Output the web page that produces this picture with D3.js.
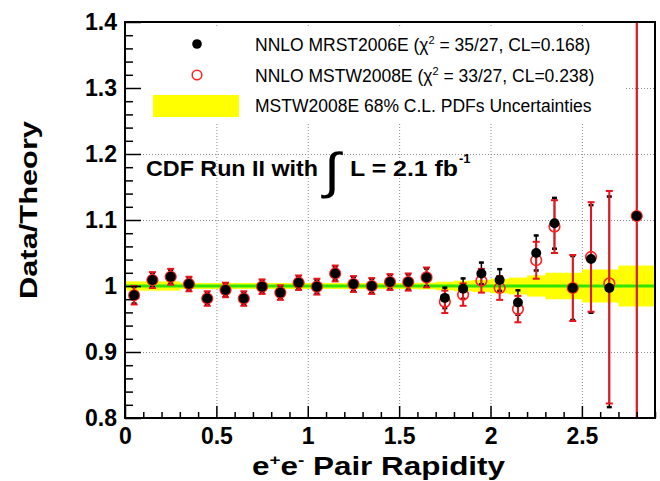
<!DOCTYPE html>
<html><head><meta charset="utf-8">
<script src="https://cdn.jsdelivr.net/npm/d3@7"></script>
<style>
body{margin:0;background:#fff;}
svg{display:block;}
text{font-family:"Liberation Sans",Arial,Helvetica,sans-serif;}
</style></head>
<body><svg id="c" width="660" height="481"></svg>
<script>
// ---- data ----
const rapidity = [0.05,0.15,0.25,0.35,0.45,0.55,0.65,0.75,0.85,0.95,1.05,1.15,1.25,1.35,1.45,1.55,1.65,1.75,1.85,1.95,2.05,2.15,2.25,2.35,2.45,2.55,2.65,2.8];
const mrst2006 = [0.986,1.009,1.014,1.003,0.981,0.994,0.981,0.999,0.990,1.005,0.999,1.019,1.003,1.000,1.006,1.006,1.013,0.982,0.996,1.019,1.009,0.975,1.050,1.095,0.997,1.041,0.997,1.106];
const mstw2008 = [0.986,1.009,1.014,1.003,0.981,0.994,0.981,0.999,0.990,1.005,0.999,1.019,1.003,1.000,1.006,1.006,1.013,0.976,0.987,1.008,0.997,0.965,1.039,1.090,0.997,1.044,1.004,1.106];
const errHi = [0.014,0.012,0.012,0.011,0.011,0.011,0.011,0.011,0.011,0.011,0.012,0.012,0.012,0.012,0.012,0.013,0.015,0.017,0.017,0.018,0.018,0.020,0.028,0.040,0.050,0.083,0.140,0.600];
const errLo = [0.014,0.012,0.012,0.011,0.011,0.011,0.011,0.011,0.011,0.011,0.012,0.012,0.012,0.012,0.012,0.013,0.015,0.017,0.017,0.018,0.018,0.020,0.028,0.040,0.050,0.083,0.182,0.600];
const bandEdges = [0,0.3,1.6,1.7,1.8,1.9,2.0,2.1,2.2,2.3,2.5,2.7,2.9];
const bandHalf = [0.007,0.0045,0.005,0.0065,0.008,0.009,0.011,0.0127,0.016,0.020,0.025,0.031];
const xTicks = [0,0.5,1,1.5,2,2.5];
const xTickLabels = ["0","0.5","1","1.5","2","2.5"];
const yTicks = [0.8,0.9,1.0,1.1,1.2,1.3,1.4];
const yTickLabels = ["0.8","0.9","1","1.1","1.2","1.3","1.4"];
const legendLabels = ["NNLO MRST2006E (χ","NNLO MSTW2008E (χ","MSTW2008E 68% C.L. PDFs Uncertainties"];
const legendTails = [" = 35/27, CL=0.168)"," = 33/27, CL=0.238)",""];

// ---- layout ----
const L=125,R=655,T=22,B=418;
const svg=d3.select("#c");
const x=d3.scaleLinear().domain([0,2.9]).range([L,R]);
const y=d3.scaleLinear().domain([0.8,1.4]).range([B,T]);

svg.append("defs").append("clipPath").attr("id","clip")
  .append("rect").attr("x",L).attr("y",T).attr("width",R-L).attr("height",B-T);

// grid
const grid=svg.append("g").attr("stroke","#8a8a8a").attr("stroke-width",1).attr("stroke-dasharray","1,2");
grid.selectAll("line.gx").data(xTicks.filter(d=>d>0)).join("line")
  .attr("x1",d=>x(d)+0.5).attr("x2",d=>x(d)+0.5).attr("y1",T).attr("y2",B);
grid.selectAll("line.gy").data(yTicks.filter(d=>d>0.8&&d<1.4)).join("line")
  .attr("y1",d=>y(d)+0.5).attr("y2",d=>y(d)+0.5).attr("x1",L).attr("x2",R);

// uncertainty band
const bandData=bandHalf.map((h,i)=>({x0:bandEdges[i],x1:bandEdges[i+1],h}));
svg.append("g").selectAll("rect").data(bandData).join("rect")
  .attr("x",d=>x(d.x0)).attr("width",d=>x(d.x1)-x(d.x0)+0.5)
  .attr("y",d=>y(1+d.h)).attr("height",d=>y(1-d.h)-y(1+d.h))
  .attr("fill","#ffff00");
svg.append("line").attr("x1",L).attr("x2",R).attr("y1",y(1)).attr("y2",y(1))
  .attr("stroke","#2fe400").attr("stroke-width",3);

// legend box (white, covers grid)
svg.append("rect").attr("x",140).attr("y",27).attr("width",486).attr("height",97).attr("fill","#fff");

// data
const pts=rapidity.map((r,i)=>({r,a:mrst2006[i],b:mstw2008[i],hi:errHi[i],lo:errLo[i]}));
const dg=svg.append("g").attr("clip-path","url(#clip)");
// black error bars
const bk=dg.append("g");
bk.selectAll("line.v").data(pts).join("line")
  .attr("x1",d=>x(d.r)).attr("x2",d=>x(d.r)).attr("y1",d=>y(d.a+d.hi)).attr("y2",d=>y(d.a-d.lo))
  .attr("stroke","#000").attr("stroke-width",1.5);
bk.selectAll("line.t").data(pts).join("line")
  .attr("x1",d=>x(d.r)-2.5).attr("x2",d=>x(d.r)+2.5).attr("y1",d=>y(d.a+d.hi)+1).attr("y2",d=>y(d.a+d.hi)+1)
  .attr("stroke","#000").attr("stroke-width",2.5);
bk.selectAll("line.b").data(pts).join("line")
  .attr("x1",d=>x(d.r)-2.5).attr("x2",d=>x(d.r)+2.5).attr("y1",d=>y(d.a-d.lo)-1).attr("y2",d=>y(d.a-d.lo)-1)
  .attr("stroke","#000").attr("stroke-width",2.5);
// red error bars
const rd=dg.append("g").attr("stroke","#e8141c");
rd.selectAll("line.v").data(pts).join("line")
  .attr("x1",d=>x(d.r)).attr("x2",d=>x(d.r)).attr("y1",d=>y(d.b+d.hi)).attr("y2",d=>y(d.b-d.lo))
  .attr("stroke-width",2);
rd.selectAll("line.t").data(pts).join("line")
  .attr("x1",d=>x(d.r)-3.5).attr("x2",d=>x(d.r)+3.5).attr("y1",d=>y(d.b+d.hi)).attr("y2",d=>y(d.b+d.hi))
  .attr("stroke-width",2);
rd.selectAll("line.b").data(pts).join("line")
  .attr("x1",d=>x(d.r)-3.5).attr("x2",d=>x(d.r)+3.5).attr("y1",d=>y(d.b-d.lo)).attr("y2",d=>y(d.b-d.lo))
  .attr("stroke-width",2);
// markers
dg.append("g").selectAll("circle").data(pts).join("circle")
  .attr("cx",d=>x(d.r)).attr("cy",d=>y(d.b)).attr("r",5.3)
  .attr("fill","none").attr("stroke","#ff2020").attr("stroke-width",1.6);
dg.append("g").selectAll("circle").data(pts).join("circle")
  .attr("cx",d=>x(d.r)).attr("cy",d=>y(d.a)).attr("r",5).attr("fill","#000");

// axes ticks
const xMinor=d3.range(0,2.91,0.1).map(v=>+v.toFixed(2)).filter(v=>!xTicks.some(t=>Math.abs(t-v)<1e-6));
const yMinor=d3.range(0.8,1.401,0.02).map(v=>+v.toFixed(2)).filter(v=>!yTicks.some(t=>Math.abs(t-v)<1e-6));
const axStyle=g=>{g.select(".domain").remove();g.selectAll(".tick line").attr("stroke","#000").attr("stroke-width",1.5);};
svg.append("g").attr("transform",`translate(0,${B})`)
  .call(d3.axisBottom(x).tickValues(xMinor).tickSizeInner(-6).tickSizeOuter(0).tickFormat(""))
  .call(axStyle);
svg.append("g").attr("transform",`translate(0,${B})`)
  .call(d3.axisBottom(x).tickValues(xTicks).tickSizeInner(-12).tickSizeOuter(0).tickPadding(10)
    .tickFormat((d,i)=>xTickLabels[i]))
  .call(axStyle)
  .call(g=>g.selectAll("text").attr("font-size",23).attr("font-weight","bold").attr("fill","#000")
    .attr("font-family","'Liberation Sans',Arial,sans-serif"));
svg.append("g").attr("transform",`translate(${L},0)`)
  .call(d3.axisLeft(y).tickValues(yMinor).tickSizeInner(-8).tickSizeOuter(0).tickFormat(""))
  .call(axStyle);
svg.append("g").attr("transform",`translate(${L},0)`)
  .call(d3.axisLeft(y).tickValues(yTicks).tickSizeInner(-16).tickSizeOuter(0).tickPadding(8)
    .tickFormat((d,i)=>yTickLabels[i]))
  .call(axStyle)
  .call(g=>g.selectAll("text").attr("font-size",23).attr("font-weight","bold").attr("fill","#000")
    .attr("font-family","'Liberation Sans',Arial,sans-serif"));

// frame
svg.append("rect").attr("x",L).attr("y",T).attr("width",R-L).attr("height",B-T)
  .attr("fill","none").attr("stroke","#000").attr("stroke-width",2);

// axis titles
svg.append("text").attr("transform","translate(37,210) rotate(-90)").attr("text-anchor","middle")
  .attr("font-size",24).attr("font-weight","bold").attr("textLength",178).attr("lengthAdjust","spacingAndGlyphs")
  .text("Data/Theory");
const xt=svg.append("text").attr("x",252).attr("y",475).attr("font-size",25).attr("font-weight","bold")
  .attr("textLength",253).attr("lengthAdjust","spacingAndGlyphs");
xt.append("tspan").text("e");
xt.append("tspan").attr("font-size",15).attr("dy",-10).text("+");
xt.append("tspan").attr("dy",10).text("e");
xt.append("tspan").attr("font-size",15).attr("dy",-10).text("-");
xt.append("tspan").attr("dy",10).text(" Pair Rapidity");

// legend
const lg=svg.append("g");
const rowsY=[44,75,105];
lg.append("circle").attr("cx",197).attr("cy",rowsY[0]).attr("r",4.8).attr("fill","#000");
lg.append("circle").attr("cx",197).attr("cy",rowsY[1]).attr("r",4.8).attr("fill","none").attr("stroke","#ff2020").attr("stroke-width",1.5);
lg.append("rect").attr("x",153).attr("y",95).attr("width",86).attr("height",22).attr("fill","#ffff00");
legendLabels.forEach((t,i)=>{
  const tx=lg.append("text").attr("x",255).attr("y",rowsY[i]+6.5).attr("font-size",17.5);
  tx.append("tspan").text(t);
  if(legendTails[i]){
    tx.append("tspan").attr("font-size",11).attr("dy",-7).text("2");
    tx.append("tspan").attr("dy",7).text(legendTails[i]);
  }
});

// CDF annotation
svg.append("text").attr("x",146).attr("y",176).attr("font-size",22).attr("font-weight","bold")
  .attr("textLength",172).attr("lengthAdjust","spacingAndGlyphs").text("CDF Run II with");
svg.append("text").attr("x",324).attr("y",188).attr("font-size",50).attr("font-family","'DejaVu Sans',sans-serif")
  .attr("textLength",16).attr("lengthAdjust","spacingAndGlyphs").text("∫");
svg.append("text").attr("x",350).attr("y",176).attr("font-size",22).attr("font-weight","bold")
  .attr("textLength",108).attr("lengthAdjust","spacingAndGlyphs").text("L = 2.1 fb");
svg.append("text").attr("x",459).attr("y",163).attr("font-size",13).attr("font-weight","bold").text("-1");
</script></body></html>
